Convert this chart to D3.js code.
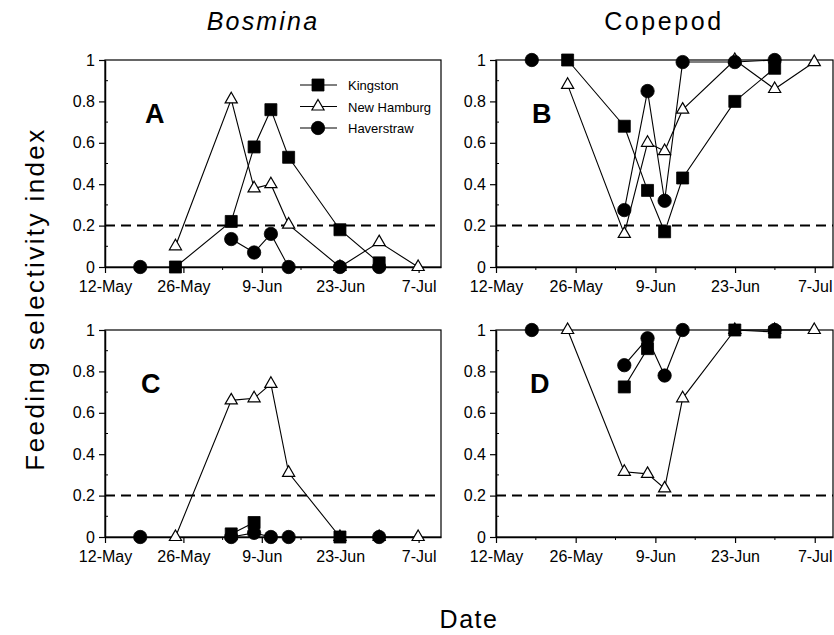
<!DOCTYPE html>
<html>
<head>
<meta charset="utf-8">
<script src="https://cdn.jsdelivr.net/npm/d3@7"></script>
<style>
  html, body { margin: 0; padding: 0; background: #fff; }
  svg { display: block; }
  text { font-family: "Liberation Sans", Arial, sans-serif; fill: #000; }
</style>
</head>
<body>
<svg id="chart" width="834" height="635"></svg>
<script>
// ---------- data ----------
const sampleDates = ["1995-05-18T07:00", "1995-05-24T14:00", "1995-06-03T13:00", "1995-06-07T15:00",
                     "1995-06-10T15:00", "1995-06-13T19:00", "1995-06-22T23:00", "1995-06-29T23:00",
                     "1995-07-06T22:00"];
const xTickDates = ["1995-05-12", "1995-05-26", "1995-06-09", "1995-06-23", "1995-07-07"];
const xTickLabels = ["12-May", "26-May", "9-Jun", "23-Jun", "7-Jul"];
const xMinorDates = ["1995-05-19", "1995-06-02", "1995-06-16", "1995-06-30"];
const xDomainEnds = ["1995-07-11T00:00", "1995-07-10T05:00"];
const yTicks = [0, 0.2, 0.4, 0.6, 0.8, 1];
const yTickLabels = ["0", "0.2", "0.4", "0.6", "0.8", "1"];
const yMinor = [0.1, 0.3, 0.5, 0.7, 0.9];
const threshold = 0.2;
const stations = ["Kingston", "New Hamburg", "Haverstraw"];
const columnTitles = ["Bosmina", "Copepod"];
const panelLetters = ["A", "B", "C", "D"];

// Panel A: Bosmina, top row
const aKingston   = [null, 0, 0.22, 0.58, 0.76, 0.53, 0.18, 0.02, null];
const aNewHamburg = [null, 0.10, 0.81, 0.38, 0.40, 0.205, 0, 0.12, 0];
const aHaverstraw = [0, null, 0.135, 0.07, 0.16, 0, 0, 0, null];
// Panel B: Copepod, top row
const bKingston   = [null, 1.0, 0.68, 0.37, 0.17, 0.43, 0.80, 0.96, null];
const bNewHamburg = [null, 0.88, 0.16, 0.60, 0.56, 0.76, 1.0, 0.86, 0.99];
const bHaverstraw = [1.0, null, 0.275, 0.85, 0.32, 0.99, 0.99, 1.0, null];
// Panel C: Bosmina, bottom row
const cKingston   = [null, null, 0.015, 0.07, null, null, 0, null, null];
const cNewHamburg = [null, 0, 0.66, 0.67, 0.74, 0.31, 0, 0, 0];
const cHaverstraw = [0, null, 0, 0.02, 0, 0, null, 0, null];
// Panel D: Copepod, bottom row
const dKingston   = [null, null, 0.725, 0.91, null, null, 1.0, 0.99, null];
const dNewHamburg = [null, 1.0, 0.315, 0.305, 0.235, 0.67, 1.0, 1.0, 1.0];
const dHaverstraw = [1.0, null, 0.83, 0.96, 0.78, 1.0, null, 1.0, null];

// ---------- layout ----------
const parse = d3.isoParse;
const dates = sampleDates.map(parse);
const svg = d3.select("#chart");

const panelWs = [336, 337], panelH = 207;
const lefts = [105, 496], tops = [60, 330];
const panels = [
  {letter: panelLetters[0], col: 0, row: 0, series: [aKingston, aNewHamburg, aHaverstraw], legend: true, lx: 40},
  {letter: panelLetters[1], col: 1, row: 0, series: [bKingston, bNewHamburg, bHaverstraw], lx: 36},
  {letter: panelLetters[2], col: 0, row: 1, series: [cKingston, cNewHamburg, cHaverstraw], lx: 36},
  {letter: panelLetters[3], col: 1, row: 1, series: [dKingston, dNewHamburg, dHaverstraw], lx: 34}
];

const y = d3.scaleLinear().domain([0, 1]).range([panelH, 0]);

const symSquare = d3.symbol(d3.symbolSquare, 144)();
const symTri = d3.symbol(d3.symbolTriangle, 64)();
const symCircle = d3.symbol(d3.symbolCircle, 140)();
const markerFor = [
  {path: symSquare, fill: "#000", stroke: "#000", sw: 0.8},
  {path: symTri, fill: "#fff", stroke: "#000", sw: 1.2},
  {path: symCircle, fill: "#000", stroke: "#000", sw: 0.8}
];

panels.forEach(p => {
  const panelW = panelWs[p.col];
  const x = d3.scaleTime()
    .domain([parse("1995-05-12"), parse(xDomainEnds[p.col])])
    .range([0, panelW]);
  const g = svg.append("g").attr("transform", `translate(${lefts[p.col]},${tops[p.row]})`);

  // frame
  g.append("rect").attr("width", panelW).attr("height", panelH)
    .attr("fill", "none").attr("stroke", "#000").attr("stroke-width", 1.2);

  // y axis
  const ya = g.append("g").call(d3.axisLeft(y).tickValues(yTicks)
      .tickFormat((d, i) => yTickLabels[i]).tickSize(6).tickSizeOuter(0).tickPadding(4));
  ya.select(".domain").attr("stroke-width", 1.5);
  ya.selectAll("text").attr("font-size", 16).attr("font-family", "Liberation Sans, Arial, sans-serif");
  ya.selectAll(".tick line").attr("stroke-width", 1.2);
  g.append("g").selectAll("line").data(yMinor).join("line")
    .attr("x1", 0).attr("x2", 3).attr("y1", d => y(d)).attr("y2", d => y(d))
    .attr("stroke", "#000").attr("stroke-width", 1);

  // x axis
  const xa = g.append("g").attr("transform", `translate(0,${panelH})`)
    .call(d3.axisBottom(x).tickValues(xTickDates.map(parse))
      .tickFormat((d, i) => xTickLabels[i]).tickSize(6).tickSizeOuter(0).tickPadding(8));
  xa.select(".domain").attr("stroke-width", 1.5);
  xa.selectAll("text").attr("font-size", 16).attr("font-family", "Liberation Sans, Arial, sans-serif");
  xa.selectAll(".tick line").attr("stroke-width", 1.2);
  g.append("g").selectAll("line").data(xMinorDates.map(parse)).join("line")
    .attr("x1", d => x(d)).attr("x2", d => x(d)).attr("y1", panelH).attr("y2", panelH + 3)
    .attr("stroke", "#000").attr("stroke-width", 1);

  // threshold dashed line
  g.append("line").attr("x1", 0).attr("x2", panelW)
    .attr("y1", y(threshold)).attr("y2", y(threshold))
    .attr("stroke", "#000").attr("stroke-width", 2).attr("stroke-dasharray", "10,6");

  // series lines
  const line = d3.line().defined(d => d.v !== null).x(d => x(d.t)).y(d => y(d.v));
  p.series.forEach(s => {
    const pts = s.map((v, i) => ({t: dates[i], v}));
    g.append("path").datum(pts).attr("d", line)
      .attr("fill", "none").attr("stroke", "#000").attr("stroke-width", 1.1);
  });

  // markers: triangles first, then squares, then circles on top
  [1, 0, 2].forEach(si => {
    const m = markerFor[si];
    const pts = p.series[si].map((v, i) => ({t: dates[i], v})).filter(d => d.v !== null);
    g.append("g").selectAll("path").data(pts).join("path")
      .attr("d", m.path)
      .attr("transform", d => `translate(${x(d.t)},${y(d.v)})`)
      .attr("fill", m.fill).attr("stroke", m.stroke).attr("stroke-width", m.sw);
  });

  // panel letter
  g.append("text").attr("x", p.lx).attr("y", 63)
    .attr("font-size", 27).attr("font-weight", "bold").text(p.letter);

  // legend
  if (p.legend) {
    const lg = g.append("g").attr("transform", "translate(195,25)");
    stations.forEach((name, i) => {
      const row = lg.append("g").attr("transform", `translate(0,${i * 21.5})`);
      row.append("line").attr("x1", 0).attr("x2", 37).attr("stroke", "#000").attr("stroke-width", 1.1);
      const m = markerFor[i];
      row.append("path").attr("d", m.path).attr("transform", "translate(18,0)")
        .attr("fill", m.fill).attr("stroke", m.stroke).attr("stroke-width", m.sw);
      row.append("text").attr("x", 48).attr("y", 5).attr("font-size", 13).text(name);
    });
  }
});

// column titles
svg.append("text").attr("x", 263).attr("y", 30).attr("text-anchor", "middle")
  .attr("font-size", 25).attr("font-style", "italic").attr("letter-spacing", 2.2).text(columnTitles[0]);
svg.append("text").attr("x", 664).attr("y", 30).attr("text-anchor", "middle")
  .attr("font-size", 25).attr("letter-spacing", 2.6).text(columnTitles[1]);

// axis titles
svg.append("text").attr("transform", "translate(44,299) rotate(-90)").attr("text-anchor", "middle")
  .attr("font-size", 26).attr("letter-spacing", 2.4).text("Feeding selectivity index");
svg.append("text").attr("x", 469).attr("y", 628).attr("text-anchor", "middle")
  .attr("font-size", 25).attr("letter-spacing", 1.5).text("Date");
</script>
</body>
</html>
